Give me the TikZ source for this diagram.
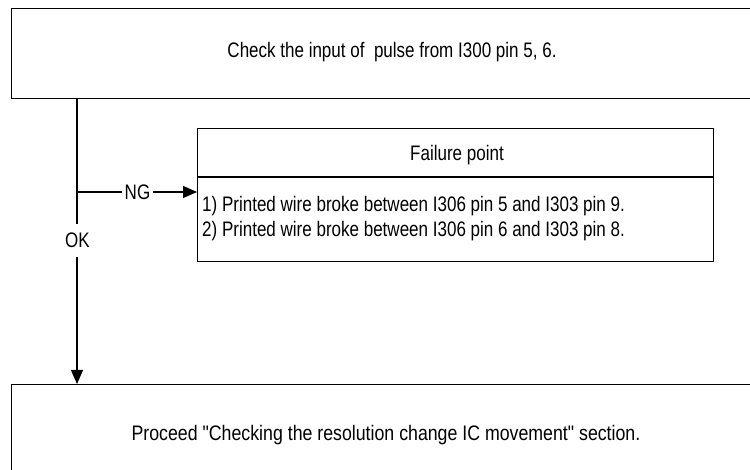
\documentclass[tikz,border=0pt]{standalone}
\usepackage{fontspec}
\setmainfont{Liberation Sans}
\newfontfamily\diagfont[FakeStretch=0.81]{Liberation Sans}
\newfontfamily\diagfontwide[FakeStretch=0.845]{Liberation Sans}
\usetikzlibrary{arrows.meta}
\begin{document}
\begin{tikzpicture}[x=1pt,y=1pt,
  box/.style={draw, line width=1.2pt, rectangle, inner sep=0pt},
  conn/.style={line width=1.2pt},
  arr/.style={line width=1.2pt, -{Triangle[length=14pt,width=12pt]}},
  lbl/.style={font=\diagfont\fontsize{21}{25}\selectfont, inner sep=0pt, anchor=base}]
\useasboundingbox (0,0) rectangle (750,-470);
\clip (0,0) rectangle (750,-470);
\node[box, minimum width=760pt, minimum height=90pt, anchor=north west] (top) at (11,-8) {};
\node[lbl] (toptext) at (392,-57.7) {Check the input of\ \ pulse from I300 pin 5, 6.};
\node[box, minimum width=760pt, minimum height=100pt, anchor=north west] (bot) at (11,-384) {};
\node[lbl, font=\diagfontwide\fontsize{21}{25}\selectfont] (bottext) at (386,-440) {Proceed \symbol{34}Checking the resolution change IC movement\symbol{34} section.};
\node[box, minimum width=516pt, minimum height=133pt, anchor=north west] (fail) at (197,-128) {};
\coordinate (dl) at (197,-177);
\coordinate (dr) at (713,-177);
\draw[conn] (dl) -- (dr);
\node[lbl] (failtitle) at (457,-160.7) {Failure point};
\node[lbl, anchor=base west] (fail1) at (202,-211.7) {1) Printed wire broke between I306 pin 5 and I303 pin 9.};
\node[lbl, anchor=base west] (fail2) at (202,-236.7) {2) Printed wire broke between I306 pin 6 and I303 pin 8.};
\coordinate (branch) at (77,-192);
\coordinate (src) at (77,-98);
\node[lbl, inner ysep=9pt] (ok) at (77.5,-248) {OK};
\node[lbl, inner xsep=3pt] (ng) at (137.5,-200) {NG};
\draw[conn] (src) -- (branch) -- (ok.north -| branch);
\draw[arr] (ok.south -| branch) -- (branch |- bot.north);
\draw[conn] (branch) -- (ng.west |- branch);
\draw[arr] (ng.east |- branch) -- (fail.west |- branch);
\end{tikzpicture}
\end{document}
